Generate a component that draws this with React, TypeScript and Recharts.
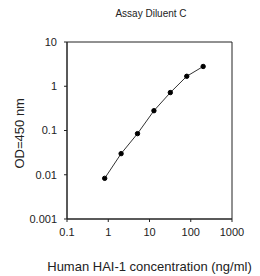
import { Line, LineChart, ReferenceArea, XAxis, YAxis } from "recharts";

const concentrations = [0.82, 2.05, 5.12, 12.8, 32, 80, 200];
const odValues = [0.0083, 0.03, 0.085, 0.28, 0.72, 1.68, 2.8];
const xTicks = [0.1, 1, 10, 100, 1000];
const yTicks = [0.001, 0.01, 0.1, 1, 10];

const data = concentrations.map((c, i) => ({ conc: c, od: odValues[i] }));

const font = "Arial, 'Liberation Sans', sans-serif";

export default function App() {
  return (
    <div style={{ position: "absolute", left: 0, top: 0, width: 260, height: 276, background: "#fff", fontFamily: font }}>
      <div style={{ position: "absolute", left: 101, width: 100, top: 8, textAlign: "center", fontSize: 10, color: "#222" }}>
        Assay Diluent C
      </div>
      <LineChart width={260} height={276} data={data} margin={{ top: 42, right: 28, bottom: 27, left: 26 }}>
        <XAxis
          dataKey="conc"
          type="number"
          scale="log"
          domain={[0.1, 1000]}
          ticks={xTicks}
          allowDataOverflow
          tickSize={3}
          tickMargin={6}
          stroke="#222"
          tick={{ fill: "#222", fontSize: 11, fontFamily: font }}
          height={30}
          label={{ value: "Human HAI-1 concentration (ng/ml)", position: "insideBottom", offset: -22, fill: "#222", fontSize: 13, fontFamily: font }}
        />
        <YAxis
          dataKey="od"
          type="number"
          scale="log"
          domain={[0.001, 10]}
          ticks={yTicks}
          allowDataOverflow
          tickSize={3}
          tickMargin={7}
          stroke="#222"
          width={41}
          tickFormatter={(v: number) => String(v)}
          tick={{ fill: "#222", fontSize: 11, fontFamily: font }}
          label={{ value: "OD=450 nm", angle: -90, position: "insideLeft", offset: -12, dx: 5, dy: 38, fill: "#222", fontSize: 13, fontFamily: font }}
        />
        <ReferenceArea x1={0.1} x2={1000} y1={0.001} y2={10} fill="none" stroke="#222" strokeWidth={1} ifOverflow="visible" />
        <Line
          dataKey="od"
          stroke="#333"
          strokeWidth={1}
          dot={{ r: 2.2, fill: "#000", stroke: "#000", strokeWidth: 1 }}
          isAnimationActive={false}
        />
      </LineChart>
    </div>
  );
}
